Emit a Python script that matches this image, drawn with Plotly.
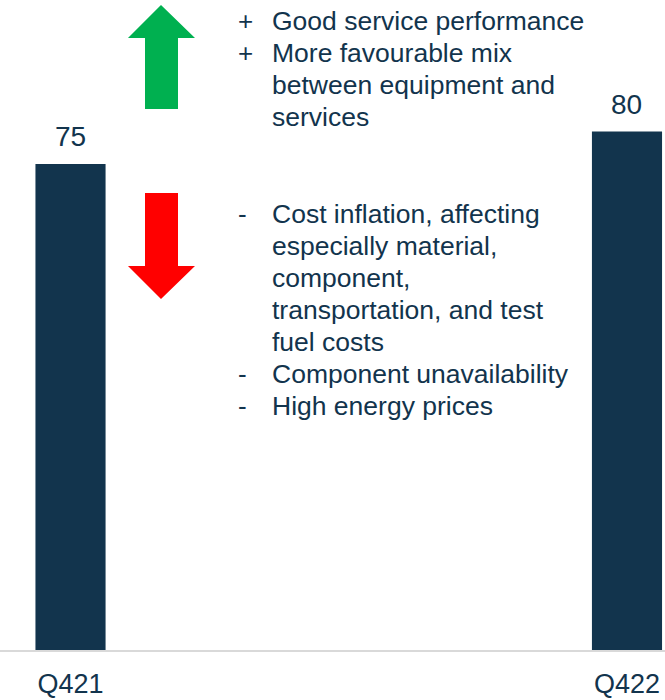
import plotly.graph_objects as go

# data
categories = ["Q421", "Q422"]
values = [75, 80]

positive_lines = [
    ("+", "Good service performance"),
    ("+", "More favourable mix"),
    ("", "between equipment and"),
    ("", "services"),
]
negative_lines = [
    ("-", "Cost inflation, affecting"),
    ("", "especially material,"),
    ("", "component,"),
    ("", "transportation, and test"),
    ("", "fuel costs"),
    ("-", "Component unavailability"),
    ("-", "High energy prices"),
]

NAVY = "#12344D"
W, H = 665, 700
PLOT_H = 650  # plot area height in px (margin top 0, bottom 50)
FONT = "Liberation Sans, Arial, sans-serif"


def px(x, y):
    # pixel position -> paper coordinates
    return x / W, 1 - y / PLOT_H


def poly(points):
    parts = []
    for i, (x, y) in enumerate(points):
        fx, fy = px(x, y)
        parts.append(("M" if i == 0 else "L") + f"{fx:.5f},{fy:.5f}")
    return " ".join(parts) + " Z"


fig = go.Figure()
fig.add_trace(go.Bar(
    x=[0, 1], y=values,
    marker_color=NAVY, marker_line_width=0,
    width=0.126,
    hoverinfo="skip",
))

# value labels above bars
for i, v in enumerate(values):
    fig.add_annotation(
        x=i, y=v, xref="x", yref="y", text=str(v),
        showarrow=False, yanchor="bottom", yshift=10,
        font=dict(family=FONT, size=28, color=NAVY),
    )

# arrows
up_arrow = [(161, 5), (195, 38), (178, 38), (178, 109), (145, 109), (145, 38), (128, 38)]
down_arrow = [(145, 193), (178, 193), (178, 266), (195, 266), (161, 299), (128, 266), (145, 266)]
fig.add_shape(type="path", xref="paper", yref="paper", path=poly(up_arrow),
              fillcolor="#00B050", line_width=0)
fig.add_shape(type="path", xref="paper", yref="paper", path=poly(down_arrow),
              fillcolor="#FF0000", line_width=0)

# bullet text, one annotation per line
def add_block(lines, y0, step=32):
    for k, (bullet, txt) in enumerate(lines):
        yy = y0 + k * step
        if bullet:
            bx, by = px(236, yy)
            fig.add_annotation(x=bx, y=by, xref="paper", yref="paper", text=bullet,
                               showarrow=False, xanchor="left", yanchor="middle",
                               font=dict(family=FONT, size=26, color=NAVY))
        tx, ty = px(270, yy)
        fig.add_annotation(x=tx, y=ty, xref="paper", yref="paper", text=txt,
                           showarrow=False, xanchor="left", yanchor="middle",
                           font=dict(family=FONT, size=26.5, color=NAVY))


add_block(positive_lines, 21)
add_block(negative_lines, 214)

fig.update_layout(
    width=W, height=H,
    margin=dict(l=0, r=0, t=0, b=H - PLOT_H),
    plot_bgcolor="white", paper_bgcolor="white",
    showlegend=False,
    xaxis=dict(
        range=[-0.1267, 1.0683],
        tickvals=[0, 1], ticktext=categories,
        tickfont=dict(family=FONT, size=27, color=NAVY),
        ticklabelstandoff=9,
        showgrid=False, zeroline=False,
        showline=True, linecolor="#D9D9D9", linewidth=2,
        ticks="", fixedrange=True,
    ),
    yaxis=dict(range=[0, 100.3], visible=False, fixedrange=True),
)

fig.write_html("out.html", config={"displayModeBar": False},
               post_script="document.body.style.margin='0';")
